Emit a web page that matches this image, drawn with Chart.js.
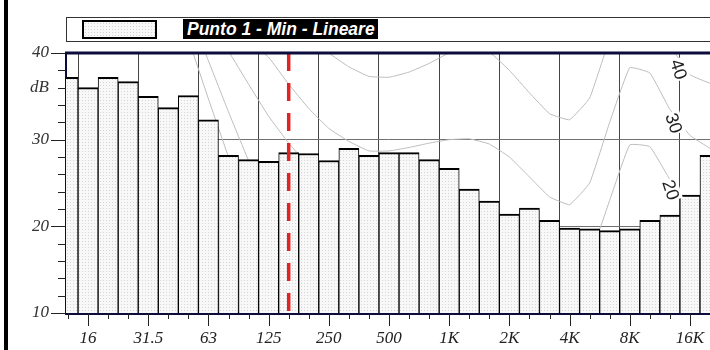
<!DOCTYPE html>
<html lang="it">
<head>
  <meta charset="UTF-8">
  <title>Punto 1 - Min - Lineare</title>
  <script src="https://cdn.jsdelivr.net/npm/chart.js"></script>
  <style>
    body { margin: 0; background: #fff; }
    .wrap { position: relative; width: 710px; height: 350px; overflow: hidden; }
    canvas { position: absolute; left: 0; top: 0; }
    .frame { position: absolute; left: 4px; top: 0; width: 4px; height: 350px; background: #000; }
    .legend { position: absolute; left: 66px; top: 17px; width: 700px; height: 23px; border: 1px solid #333; }
    .swatch { position: absolute; left: 15px; top: 2px; width: 71px; height: 15px; border: 2px solid #000;
      background-color: #f8f8f8; background-image: radial-gradient(#d0d0d0 0.7px, transparent 0.8px); background-size: 3px 3px; }
    .title { position: absolute; left: 116px; top: 1px; height: 20px; line-height: 20px; padding: 0 3px 0 4px;
      background: #000; color: #fff; font: italic bold 17.5px "Liberation Sans", Arial, sans-serif; white-space: nowrap; }
  </style>
</head>
<body>
  <div class="wrap">
    <canvas id="c" width="710" height="350"></canvas>
    <div class="frame"></div>
    <div class="legend">
      <div class="swatch"></div>
      <div class="title">Punto 1 - Min - Lineare</div>
    </div>
  </div>

  <script>
    // third-octave bands, one bar each (12.5 Hz ... 20 kHz)
    const bands = ['12.5', '16', '20', '25', '31.5', '40', '50', '63', '80', '100', '125', '160', '200', '250',
      '315', '400', '500', '630', '800', '1K', '1.25K', '1.6K', '2K', '2.5K', '3.15K', '4K', '5K', '6.3K',
      '8K', '10K', '12.5K', '16K', '20K'];
    const levels = [37.2, 36.0, 37.2, 36.7, 35.0, 33.7, 35.1, 32.3, 28.2, 27.7, 27.5, 28.5, 28.4, 27.6,
      29.0, 28.2, 28.5, 28.5, 27.7, 26.7, 24.3, 22.9, 21.4, 22.1, 20.7, 19.8, 19.7, 19.5,
      19.7, 20.7, 21.3, 23.6, 28.2];
    const octaveLabels = ['16', '31.5', '63', '125', '250', '500', '1K', '2K', '4K', '8K', '16K'];
    const markerBand = '160';

    // grey contour curves (dB per band, null = not drawn)
    const curve0 = [null, null, null, null, null, 48, 41.6, 34.7, 28, 22, 17, 13, 10.5, 8.5, null, null, null,
      null, null, null, null, null, null, null, null, null, null, null, null, null, null, null, null];
    const curve10 = [null, null, null, null, null, null, 45, 39.1, 33.2, 27.6, 23, 19.5, 17, 15, 13.5, 12.3, 11.3,
      10.7, 10.2, 10, 10.1, 9.6, 8.5, 7, 6, 5.5, 7, 12, 18.5, 18.5, 15, 12.5, 11];
    const curve20 = [null, null, null, null, null, null, null, 43.5, 40.2, 36.4, 32.7, 29.6, 27, 25, 23.5, 22.3, 21.3,
      20.7, 20.3, 20, 20.1, 19.6, 18.2, 16.5, 15, 14.5, 16.5, 23, 29.4, 29.2, 25.4, 22, 21];
    const curve30 = [null, null, null, null, null, null, null, null, null, 41.5, 39.5, 36.4, 33.6, 31.3, 29.8, 28.7, 28.7,
      29.1, 29.6, 30, 30.1, 29.5, 28, 25.7, 23.4, 22.5, 25, 32, 38.3, 37.7, 33.5, 30.5, 29];
    const curve40 = [null, null, null, null, null, null, null, null, null, null, null, 44.5, 42, 40, 38.4, 37.3, 37.2,
      37.8, 38.8, 40, 40.3, 40.1, 38, 35.4, 33, 32.3, 34.8, 41.7, 48, 48, 41, 37.5, 36.5];
    const curveNames = ['40', '30', '20'];

    const yMin = 10, yMax = 40;
    const navy = '#0c0c3c';

    const ctx = document.getElementById('c').getContext('2d');

    function dotPattern() {
      const c = document.createElement('canvas');
      c.width = 3; c.height = 3;
      const g = c.getContext('2d');
      g.fillStyle = '#f8f8f8'; g.fillRect(0, 0, 3, 3);
      g.fillStyle = '#d6d6d6'; g.fillRect(1, 1, 1, 1);
      return ctx.createPattern(c, 'repeat');
    }

    const toPoints = arr => arr.map((v, i) => ({ x: i, y: v }));

    function curveSet(arr) {
      return {
        type: 'line', data: toPoints(arr), borderColor: '#bdbdbd', borderWidth: 1,
        pointRadius: 0, tension: 0.1, spanGaps: false, order: 2, clip: 0
      };
    }

    // rotated curve names, plus tick marks and the top frame line
    const extras = {
      id: 'extras',
      afterDatasetsDraw(chart) {
        const { ctx, scales: { x, y } } = chart;
        const spots = [[30.44, 38.1], [30.2, 31.9], [30.05, 24.2]];
        ctx.save();
        ctx.font = '18px "Liberation Sans", Arial, sans-serif';
        ctx.textAlign = 'center';
        ctx.textBaseline = 'middle';
        curveNames.forEach((name, k) => {
          const px = x.getPixelForValue(spots[k][0]);
          const py = y.getPixelForValue(spots[k][1]);
          const w = ctx.measureText(name).width;
          ctx.save();
          ctx.translate(px, py);
          ctx.rotate(1.25);
          ctx.fillStyle = '#fff';
          ctx.fillRect(-w / 2 - 1, -9, w + 2, 18);
          ctx.fillStyle = '#222';
          ctx.fillText(name, 0, 1);
          ctx.restore();
        });
        ctx.restore();
      },
      afterDraw(chart) {
        const { ctx, chartArea: a, scales: { x, y } } = chart;
        ctx.save();
        ctx.strokeStyle = '#222';
        ctx.lineWidth = 1;
        ctx.beginPath();
        for (let v = yMin; v <= yMax; v += 2) {
          const py = Math.round(y.getPixelForValue(v)) + 0.5;
          const len = v % 10 === 0 ? 15 : 8;
          ctx.moveTo(a.left - len, py);
          ctx.lineTo(a.left, py);
        }
        bands.forEach((b, i) => {
          const px = Math.round(x.getPixelForValue(i)) + 0.5;
          if (px < a.left || px > a.right) return;
          const len = octaveLabels.includes(b) ? 13 : 6;
          ctx.moveTo(px, a.bottom);
          ctx.lineTo(px, a.bottom + len);
        });
        ctx.stroke();
        ctx.strokeStyle = navy;
        ctx.lineWidth = 3;
        ctx.beginPath();
        ctx.moveTo(a.left - 1, a.top);
        ctx.lineTo(a.right, a.top);
        ctx.stroke();
        ctx.restore();
      }
    };

    const markerX = bands.indexOf(markerBand);

    new Chart(ctx, {
      type: 'bar',
      data: {
        datasets: [
          {
            type: 'line',
            data: [{ x: markerX, y: yMax }, { x: markerX, y: yMin }],
            borderColor: '#e02424', borderWidth: 3.5, borderDash: [18, 12], borderCapStyle: 'butt',
            pointRadius: 0, order: 0, clip: 0
          },
          {
            type: 'bar',
            data: toPoints(levels),
            backgroundColor: dotPattern(),
            borderColor: '#000',
            borderWidth: { top: 2, left: 1, right: 1, bottom: 0 },
            borderSkipped: false,
            barPercentage: 1, categoryPercentage: 1,
            order: 1, clip: 0
          },
          curveSet(curve0), curveSet(curve10), curveSet(curve20), curveSet(curve30), curveSet(curve40)
        ]
      },
      options: {
        responsive: false,
        devicePixelRatio: 1,
        animation: false,
        layout: { padding: { top: 53, left: 0, right: 0, bottom: 0 } },
        plugins: { legend: { display: false }, tooltip: { enabled: false } },
        scales: {
          x: {
            type: 'linear',
            min: -0.1, max: bands.length - 1,
            offset: false,
            afterBuildTicks: s => { s.ticks = bands.map((b, i) => ({ value: i })); },
            afterFit: s => { s.height = 37; s.paddingLeft = 0; s.paddingRight = 0; },
            grid: {
              drawTicks: false,
              color: c => c.tick && octaveLabels.includes(bands[c.tick.value]) ? '#444' : 'rgba(0,0,0,0)',
              lineWidth: 1
            },
            border: { display: true, color: navy, width: 3 },
            ticks: {
              autoSkip: false, maxRotation: 0, padding: 15,
              color: '#222',
              font: { family: '"Liberation Serif", "Times New Roman", serif', size: 17, style: 'italic' },
              callback: v => octaveLabels.includes(bands[v]) ? bands[v] : ''
            }
          },
          y: {
            min: yMin, max: yMax,
            afterFit: s => { s.width = 66; },
            grid: {
              drawTicks: false,
              color: c => c.tick && (c.tick.value === 20 || c.tick.value === 30) ? '#707070' : 'rgba(0,0,0,0)',
              lineWidth: 1
            },
            border: { display: true, color: navy, width: 2 },
            ticks: {
              stepSize: 2, autoSkip: false, padding: 17,
              color: '#333',
              font: { family: '"Liberation Serif", "Times New Roman", serif', size: 17, style: 'italic' },
              callback: v => v % 10 === 0 ? String(v) : (v === 36 ? 'dB' : '')
            }
          }
        }
      },
      plugins: [extras]
    });
  </script>
</body>
</html>
